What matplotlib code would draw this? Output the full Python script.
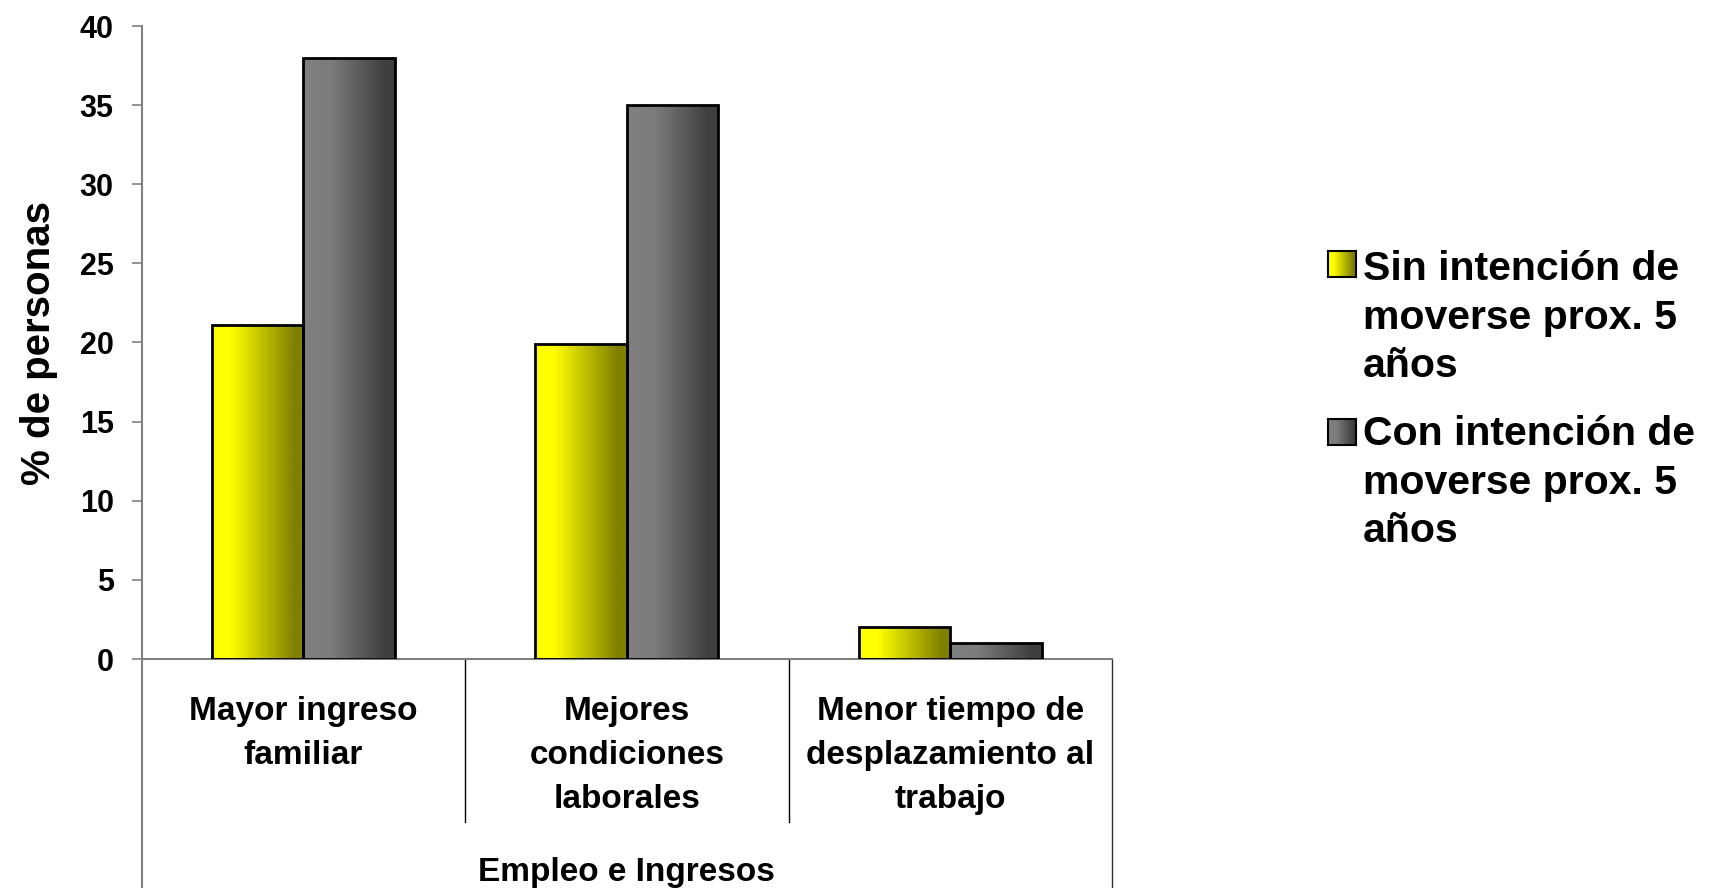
import numpy as np
import matplotlib
matplotlib.use("Agg")
import matplotlib.pyplot as plt
import matplotlib.transforms as mtransforms
from matplotlib.colors import LinearSegmentedColormap

# ---------------- data ----------------
categories = ["Mayor ingreso\nfamiliar",
              "Mejores\ncondiciones\nlaborales",
              "Menor tiempo de\ndesplazamiento al\ntrabajo"]
group_label = "Empleo e Ingresos"
series_names = ["Sin intención de\nmoverse prox. 5\naños",
                "Con intención de\nmoverse prox. 5\naños"]
sin_intencion = [21.1, 19.9, 2.0]
con_intencion = [38.0, 35.0, 1.0]
yticks = [0, 5, 10, 15, 20, 25, 30, 35, 40]
ylabel = "% de personas"

# ---------------- style ----------------
plt.rcParams['font.family'] = ['Liberation Sans', 'DejaVu Sans']
plt.rcParams['font.weight'] = 'bold'

W, H = 1719, 888
fig = plt.figure(figsize=(W / 100, H / 100), dpi=100)

ax_l, ax_r, ax_t, ax_b = 141.7, 1112.0, 26.0, 659.0
ax = fig.add_axes([ax_l / W, 1 - ax_b / H, (ax_r - ax_l) / W, (ax_b - ax_t) / H])

cmap_y = LinearSegmentedColormap.from_list(
    'yel', [(0, '#ffff00'), (0.2, '#ffff00'), (0.9, '#7f7f00'), (1, '#7f7f00')])
cmap_g = LinearSegmentedColormap.from_list(
    'gry', [(0, '#808080'), (0.3, '#7c7c7c'), (0.88, '#404040'), (1, '#3e3e3e')])
cmaps = [cmap_y, cmap_g]
grad = np.linspace(0, 1, 256).reshape(1, -1)

x = np.arange(len(categories))
w = 0.283
series = [sin_intencion, con_intencion]
offsets = [-w / 2, w / 2]

for vals, off, cmap in zip(series, offsets, cmaps):
    bars = ax.bar(x + off, vals, width=w, facecolor='none', edgecolor='black',
                  linewidth=2, zorder=3)
    for b in bars:
        x0, y0 = b.get_x(), b.get_y()
        bw, bh = b.get_width(), b.get_height()
        im = ax.imshow(grad, cmap=cmap, extent=[x0, x0 + bw, y0, y0 + bh],
                       aspect='auto', zorder=2, interpolation='bilinear')
        im.set_clip_path(b)

ax.set_xlim(-0.5, len(categories) - 0.5)
ax.set_ylim(0, 40)
ax.set_yticks(yticks)
ax.set_xticks([])

for s in ['top', 'right']:
    ax.spines[s].set_visible(False)
for s in ['left', 'bottom']:
    ax.spines[s].set_color('#808080')
    ax.spines[s].set_linewidth(1.5)

ax.tick_params(axis='y', direction='out', length=7.2, width=1.2,
               color='#808080', labelsize=22, pad=13)
for lab in ax.get_yticklabels():
    lab.set_fontweight('bold')

ax_h = ax_b - ax_t
trans = mtransforms.blended_transform_factory(ax.transData, ax.transAxes)

# category dividers below the axis
for xb in [0.5, 1.5]:
    ax.plot([xb, xb], [0, -163 / ax_h], transform=trans, color='black',
            lw=1.0, clip_on=False)
ax.plot([-0.5, -0.5], [0, -(H - ax_b) / ax_h], transform=trans,
        color='#808080', lw=1.5, clip_on=False)
ax.plot([2.5, 2.5], [0, -(H - ax_b) / ax_h], transform=trans,
        color='#303030', lw=1.0, clip_on=False)

# category labels (one text per line, baselines in pixels)
cat_base0, cat_pitch = 720.0, 44.0
for xi, lab in zip(x, categories):
    for k, line in enumerate(lab.split("\n")):
        yb = cat_base0 + k * cat_pitch
        ax.text(xi, (ax_b - yb) / ax_h, line, transform=trans,
                ha='center', va='baseline', fontsize=24, fontweight='bold',
                clip_on=False)
ax.text(1, (ax_b - 881.0) / ax_h, group_label, transform=trans,
        ha='center', va='baseline', fontsize=24, fontweight='bold', clip_on=False)

ax.set_ylabel(ylabel, fontsize=29, fontweight='bold')
ax.yaxis.set_label_coords((58 - ax_l) / (ax_r - ax_l), 0.5)

# legend (manual)
sq_x, sq_w, sq_h = 1328, 28, 26
sq_tops = [251, 419]
leg_base0 = [280.0, 445.0]
leg_pitch = 48.5
for name, cmap, top, base in zip(series_names, cmaps, sq_tops, leg_base0):
    lax = fig.add_axes([sq_x / W, 1 - (top + sq_h) / H, sq_w / W, sq_h / H])
    lax.imshow(grad, cmap=cmap, aspect='auto', extent=[0, 1, 0, 1],
               interpolation='bilinear')
    lax.set_xticks([])
    lax.set_yticks([])
    for s in lax.spines.values():
        s.set_color('black')
        s.set_linewidth(1.5)
    for k, line in enumerate(name.split("\n")):
        fig.text(1363 / W, 1 - (base + k * leg_pitch) / H, line, fontsize=29.5,
                 fontweight='bold', ha='left', va='baseline')

fig.savefig("out.png", dpi=100)
